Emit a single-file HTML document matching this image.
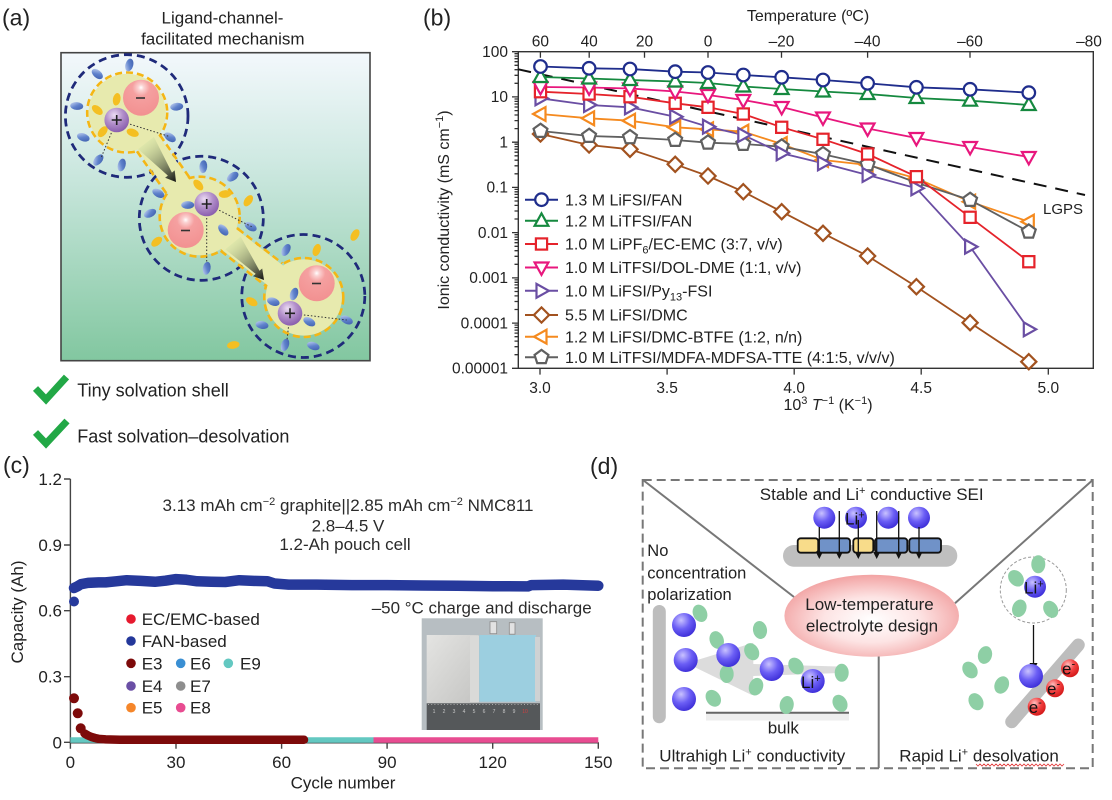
<!DOCTYPE html>
<html><head><meta charset="utf-8"><style>
html,body{margin:0;padding:0;background:#fff}
svg{display:block;font-family:"Liberation Sans",Arial,sans-serif}
</style></head><body>
<svg width="1112" height="800" viewBox="0 0 1112 800">
<defs>
<linearGradient id="bgA" gradientUnits="userSpaceOnUse" x1="0" y1="52.7" x2="0" y2="360.7">
<stop offset="0" stop-color="#f3f8fc"/><stop offset="0.35" stop-color="#cfe9e2"/><stop offset="1" stop-color="#82c7a0"/>
</linearGradient>
<radialGradient id="anion" cx="0.5" cy="0.22" r="0.8">
<stop offset="0" stop-color="#ffffff"/><stop offset="0.1" stop-color="#fbd2d2"/><stop offset="0.3" stop-color="#f5a0a0"/><stop offset="1" stop-color="#f29090"/>
</radialGradient>
<radialGradient id="cation" cx="0.4" cy="0.3" r="0.7">
<stop offset="0" stop-color="#ecdcf3"/><stop offset="0.5" stop-color="#b28fca"/><stop offset="1" stop-color="#8a5fae"/>
</radialGradient>
<linearGradient id="blig" x1="0" y1="0" x2="1" y2="1">
<stop offset="0" stop-color="#cfdcf5"/><stop offset="0.5" stop-color="#5f82cc"/><stop offset="1" stop-color="#3a5aa8"/>
</linearGradient>
<linearGradient id="arr1" gradientUnits="userSpaceOnUse" x1="146" y1="143" x2="176" y2="182">
<stop offset="0" stop-color="#c8dca0" stop-opacity="0.3"/><stop offset="1" stop-color="#111"/>
</linearGradient>
<linearGradient id="arr2" gradientUnits="userSpaceOnUse" x1="233" y1="243" x2="264" y2="280">
<stop offset="0" stop-color="#c8dca0" stop-opacity="0.3"/><stop offset="1" stop-color="#111"/>
</linearGradient>
<radialGradient id="li" cx="0.38" cy="0.3" r="0.75">
<stop offset="0" stop-color="#c9c2ff"/><stop offset="0.5" stop-color="#6b5ef5"/><stop offset="1" stop-color="#3a2bd6"/>
</radialGradient>
<radialGradient id="eb" cx="0.38" cy="0.3" r="0.75">
<stop offset="0" stop-color="#ffc0c0"/><stop offset="0.5" stop-color="#f24040"/><stop offset="1" stop-color="#d01515"/>
</radialGradient>
<radialGradient id="pinkE" cx="0.5" cy="0.55" r="0.55">
<stop offset="0" stop-color="#ffffff"/><stop offset="0.5" stop-color="#fde4e4"/><stop offset="1" stop-color="#f2a3a3"/>
</radialGradient>
<linearGradient id="pouchL" x1="0" y1="0" x2="1" y2="1">
<stop offset="0" stop-color="#e4e4e2"/><stop offset="1" stop-color="#c4c4c2"/>
</linearGradient>
<circle id="mc" r="6.3"/>
<path id="mtu" d="M0,-7.4L6.9,5L-6.9,5Z"/>
<path id="mtd" d="M0,7.4L6.9,-5L-6.9,-5Z"/>
<rect id="msq" x="-5.6" y="-5.6" width="11.2" height="11.2"/>
<path id="mtr" d="M7.4,0L-5,-6.9L-5,6.9Z"/>
<path id="mtl" d="M-7.4,0L5,-6.9L5,6.9Z"/>
<path id="mdi" d="M0,-7.6L7.6,0L0,7.6L-7.6,0Z"/>
<path id="mpe" d="M0,-7.3L6.94,-2.26L4.29,5.91L-4.29,5.91L-6.94,-2.26Z"/>
<ellipse id="gr" rx="7" ry="9" fill="#8ecfa5"/>
<ellipse id="bl" rx="6.5" ry="3.9" fill="url(#blig)"/>
<ellipse id="yl" rx="6.3" ry="3.8" fill="#f4bf22"/>
</defs>

<!-- ================= PANEL (a) ================= -->
<text x="2" y="25.5" font-size="23" fill="#222">(a)</text>
<text x="222.5" y="23.3" font-size="17" fill="#222" text-anchor="middle">Ligand-channel-</text>
<text x="222.8" y="44.3" font-size="17" fill="#222" text-anchor="middle">facilitated mechanism</text>
<rect x="61" y="52.7" width="309" height="308" fill="url(#bgA)" stroke="#444" stroke-width="1.6"/>

<!-- navy outer shells (union) -->
<g fill="none" stroke="#1f2a7a" stroke-width="2.8" stroke-dasharray="8 5">
<circle cx="126.7" cy="116" r="61.3"/>
<circle cx="201.3" cy="218.3" r="62"/>
<circle cx="303.3" cy="296" r="61.5"/>
</g>
<g fill="url(#bgA)">
<circle cx="126.7" cy="116" r="59.8"/>
<circle cx="201.3" cy="218.3" r="60.5"/>
<circle cx="303.3" cy="296" r="60"/>
</g>
<!-- yellow regions (union) -->
<g fill="none" stroke="#f5b614" stroke-width="2.6" stroke-dasharray="7 4">
<circle cx="127.2" cy="112.5" r="40"/>
<circle cx="199.7" cy="216.7" r="40"/>
<circle cx="303.8" cy="297.5" r="39.5"/>
<line x1="137" y1="151.3" x2="166.7" y2="193.9"/>
<line x1="160" y1="135.3" x2="189.7" y2="177.9"/>
<line x1="220.7" y1="250.8" x2="265.1" y2="285.4"/>
<line x1="237.9" y1="228.8" x2="282.3" y2="263.4"/>
</g>
<g fill="#e7eaae">
<circle cx="127.2" cy="112.5" r="38.6"/>
<circle cx="199.7" cy="216.7" r="38.6"/>
<circle cx="303.8" cy="297.5" r="38.1"/>
<polygon points="116.95,119.65 137.45,105.35 209.95,209.55 189.45,223.85"/>
<polygon points="192,226.55 207.4,206.85 311.5,287.65 296.1,307.35"/>
</g>
<!-- ligands -->
<g>
<use href="#bl" transform="translate(129.3,65) rotate(-75)"/>
<use href="#bl" transform="translate(97.3,74) rotate(40)"/>
<use href="#bl" transform="translate(76.7,106) rotate(5)"/>
<use href="#bl" transform="translate(176.7,106.7) rotate(-5)"/>
<use href="#bl" transform="translate(83.3,137.3) rotate(20)"/>
<use href="#bl" transform="translate(170,137.3) rotate(35)"/>
<use href="#bl" transform="translate(98.3,160) rotate(-50)"/>
<use href="#bl" transform="translate(121.7,165) rotate(-75)"/>
<use href="#bl" transform="translate(203.3,166.7) rotate(-85)"/>
<use href="#bl" transform="translate(232.7,176.7) rotate(-35)"/>
<use href="#bl" transform="translate(158.3,193.3) rotate(30)"/>
<use href="#bl" transform="translate(150,213.3) rotate(-25)"/>
<use href="#bl" transform="translate(187.7,205) rotate(0)"/>
<use href="#bl" transform="translate(223.3,230) rotate(50)"/>
<use href="#bl" transform="translate(250.7,226.7) rotate(30)"/>
<use href="#bl" transform="translate(206.7,268.3) rotate(-80)"/>
<use href="#bl" transform="translate(286,250) rotate(-60)"/>
<use href="#bl" transform="translate(273.3,301.7) rotate(20)"/>
<use href="#bl" transform="translate(294,294) rotate(-70)"/>
<use href="#bl" transform="translate(309.3,321.7) rotate(30)"/>
<use href="#bl" transform="translate(262,325) rotate(10)"/>
<use href="#bl" transform="translate(285,345) rotate(-70)"/>
<use href="#bl" transform="translate(313.3,346) rotate(20)"/>
<use href="#bl" transform="translate(346.7,320) rotate(25)"/>
<use href="#yl" transform="translate(116.7,99.3) rotate(-80)"/>
<use href="#yl" transform="translate(97.3,110) rotate(40)"/>
<use href="#yl" transform="translate(102.7,131.7) rotate(-50)"/>
<use href="#yl" transform="translate(132.7,132.7) rotate(20)"/>
<use href="#yl" transform="translate(198.3,185) rotate(50)"/>
<use href="#yl" transform="translate(225,194) rotate(-5)"/>
<use href="#yl" transform="translate(248.3,200.7) rotate(-55)"/>
<use href="#yl" transform="translate(156.7,241.7) rotate(-40)"/>
<use href="#yl" transform="translate(316.7,250) rotate(-70)"/>
<use href="#yl" transform="translate(251.7,301.7) rotate(30)"/>
<use href="#yl" transform="translate(233.3,345) rotate(-10)"/>
<use href="#yl" transform="translate(355,235) rotate(-60)"/>
</g>
<!-- dotted bonds -->
<g stroke="#333" stroke-width="1" stroke-dasharray="1.5 2" fill="none">
<line x1="116.7" y1="120" x2="170" y2="136.7"/>
<line x1="116.7" y1="120" x2="101" y2="158"/>
<line x1="206.7" y1="204" x2="251.7" y2="226.7"/>
<line x1="206.7" y1="204" x2="206.7" y2="262"/>
<line x1="290" y1="313.3" x2="346.7" y2="320"/>
<line x1="290" y1="313.3" x2="287" y2="340"/>
</g>
<!-- ions -->
<circle cx="141" cy="97.7" r="18" fill="url(#anion)"/>
<circle cx="185.7" cy="230" r="18" fill="url(#anion)"/>
<circle cx="316.7" cy="283.3" r="18" fill="url(#anion)"/>
<g stroke="#333" stroke-width="1.6">
<line x1="136" y1="98" x2="145" y2="98"/>
<line x1="181" y1="230.5" x2="190" y2="230.5"/>
<line x1="312" y1="283.5" x2="321" y2="283.5"/>
</g>
<circle cx="116.7" cy="120" r="12.3" fill="url(#cation)"/>
<circle cx="206.7" cy="204" r="12.3" fill="url(#cation)"/>
<circle cx="290" cy="313.3" r="12.3" fill="url(#cation)"/>
<g stroke="#222" stroke-width="1.6">
<path d="M111.7,120h10M116.7,115v10"/>
<path d="M201.7,204h10M206.7,199v10"/>
<path d="M285,313.3h10M290,308.3v10"/>
</g>
<polygon points="138.1,149.1 167.9,175.6 165.1,177.8 176,182 174.7,170.4 171.9,172.6 153.9,136.9" fill="url(#arr1)"/>
<polygon points="225.3,249.4 255.7,273.9 253,276.2 264,280 262.2,268.5 259.5,270.7 240.7,236.6" fill="url(#arr2)"/>

<!-- checks -->
<g fill="none" stroke="#22a846" stroke-width="7">
<path d="M35.5,388.5 L46,399.5 L66.5,377"/>
<path d="M35.5,432.5 L46,443.5 L67,421"/>
</g>
<text x="77.3" y="396.5" font-size="18" fill="#222">Tiny solvation shell</text>
<text x="77.3" y="442.5" font-size="18" fill="#222">Fast solvation–desolvation</text>

<!-- ================= PANEL (b) ================= -->
<text x="423" y="25.5" font-size="23" fill="#222">(b)</text>
<text x="808" y="21" font-size="16" fill="#222" text-anchor="middle">Temperature (ºC)</text>
<g font-size="15.5" fill="#222" text-anchor="middle">
<text x="540.4" y="46.5">60</text>
<text x="589.2" y="46.5">40</text>
<text x="644.5" y="46.5">20</text>
<text x="708" y="46.5">0</text>
<text x="781.5" y="46.5">–20</text>
<text x="867.6" y="46.5">–40</text>
<text x="970" y="46.5">–60</text>
<text x="1089" y="46.5">–80</text>
<text x="540" y="393">3.0</text>
<text x="667.1" y="393">3.5</text>
<text x="794.2" y="393">4.0</text>
<text x="921.2" y="393">4.5</text>
<text x="1048.3" y="393">5.0</text>
</g>
<g font-size="15.5" fill="#222" text-anchor="end">
<text x="508" y="57">100</text>
<text x="508" y="102.2">10</text>
<text x="508" y="147.5">1</text>
<text x="508" y="192.7">0.1</text>
<text x="508" y="237.9">0.01</text>
<text x="508" y="283.2">0.001</text>
<text x="508" y="328.4">0.0001</text>
<text x="508" y="373.6">0.00001</text>
</g>
<text x="828" y="410" font-size="16" fill="#222" text-anchor="middle">10<tspan dy="-6" font-size="11">3</tspan><tspan dy="6"> </tspan><tspan font-style="italic">T</tspan><tspan dy="-6" font-size="11">−1</tspan><tspan dy="6"> (K</tspan><tspan dy="-6" font-size="11">−1</tspan><tspan dy="6">)</tspan></text>
<text transform="translate(449,210) rotate(-90)" font-size="16" fill="#222" text-anchor="middle">Ionic conductivity (mS cm<tspan dy="-6" font-size="11">−1</tspan><tspan dy="6">)</tspan></text>

<rect x="518.3" y="51.7" width="575" height="316.6" fill="none" stroke="#333" stroke-width="1.4"/>
<g stroke="#333" stroke-width="1.3">
<path d="M512,51.7h6.3M512,96.9h6.3M512,142.2h6.3M512,187.4h6.3M512,232.6h6.3M512,277.9h6.3M512,323.1h6.3M512,368.3h6.3"/>
<path d="M514.5,354.7h3.8M514.5,346.7h3.8M514.5,341.1h3.8M514.5,336.7h3.8M514.5,333.1h3.8M514.5,330.1h3.8M514.5,327.5h3.8M514.5,325.1h3.8
M514.5,309.5h3.8M514.5,301.5h3.8M514.5,295.9h3.8M514.5,291.5h3.8M514.5,287.9h3.8M514.5,284.9h3.8M514.5,282.3h3.8M514.5,279.9h3.8
M514.5,264.3h3.8M514.5,256.3h3.8M514.5,250.7h3.8M514.5,246.3h3.8M514.5,242.7h3.8M514.5,239.7h3.8M514.5,237.1h3.8M514.5,234.7h3.8
M514.5,219h3.8M514.5,211h3.8M514.5,205.4h3.8M514.5,201h3.8M514.5,197.4h3.8M514.5,194.4h3.8M514.5,191.8h3.8M514.5,189.4h3.8
M514.5,173.8h3.8M514.5,165.8h3.8M514.5,160.2h3.8M514.5,155.8h3.8M514.5,152.2h3.8M514.5,149.2h3.8M514.5,146.6h3.8M514.5,144.2h3.8
M514.5,128.6h3.8M514.5,120.6h3.8M514.5,115h3.8M514.5,110.6h3.8M514.5,107h3.8M514.5,104h3.8M514.5,101.4h3.8M514.5,99h3.8
M514.5,83.3h3.8M514.5,75.3h3.8M514.5,69.7h3.8M514.5,65.3h3.8M514.5,61.7h3.8M514.5,58.7h3.8M514.5,56.1h3.8M514.5,53.7h3.8"/>
<path d="M540.4,51.7v6M589.2,51.7v6M644.5,51.7v6M708,51.7v6M781.5,51.7v6M867.6,51.7v6M970,51.7v6"/>
<path d="M540,368.3v6.3M667.1,368.3v6.3M794.2,368.3v6.3M921.2,368.3v6.3M1048.3,368.3v6.3"/>
</g>

<line x1="518.3" y1="69.3" x2="1085" y2="195" stroke="#111" stroke-width="2" stroke-dasharray="13 9"/>
<text x="1043" y="214" font-size="15" fill="#222">LGPS</text>

<!-- series lines -->
<g fill="none" stroke-width="1.8">
<polyline stroke="#a2521f" points="540.5,134 589.1,145 630,149.3 675.2,164.3 708,176 743.3,191.7 781.7,211.7 823,233.3 867.6,256 916.4,286.7 970.1,322.7 1028.8,361.7"/>
<polyline stroke="#f58a1f" points="540.5,114 589.1,118.3 630,120.7 675.2,127.3 708,129.3 743.3,131.7 781.7,144 823,160 867.6,165 916.4,178.3 970.1,201.7 1028.8,221.7"/>
<polyline stroke="#606060" points="540.5,131 589.1,136 630,137.3 675.2,140 708,142.7 743.3,144 781.7,146.7 823,154.3 867.6,164.3 916.4,182.7 970.1,200 1028.8,231.7"/>
<polyline stroke="#6a4ea3" points="540.5,98.3 589.1,105 630,107.3 675.2,116.7 708,126.7 743.3,135 781.7,153.3 823,163.3 867.6,175 916.4,188.3 970.1,246.7 1028.8,329.3"/>
<polyline stroke="#e5232b" points="540.5,91.7 589.1,94 630,96.7 675.2,103.3 708,107.3 743.3,114 781.7,127.3 823,139.3 867.6,154 916.4,176.7 970.1,217.3 1028.8,261.7"/>
<polyline stroke="#e8177d" points="540.5,87 589.1,87.5 630,88.5 675.2,91.5 708,95 743.3,100 781.7,107 823,117.5 867.6,128.5 916.4,138 970.1,147 1028.8,157"/>
<polyline stroke="#15893f" points="540.5,77 589.1,78.5 630,80 675.2,81.5 708,83 743.3,86.5 781.7,89 823,91.5 867.6,94 916.4,98 970.1,100.7 1028.8,105"/>
<polyline stroke="#1f2d8c" points="540.5,66.5 589.1,68.3 630,69 675.2,71.7 708,72.5 743.3,75 781.7,77.3 823,80 867.6,83.3 916.4,87.3 970.1,89.3 1028.8,92.7"/>
</g>
<!-- series markers -->
<g fill="#fff" stroke-width="2.2">
<g stroke="#a2521f"><use href="#mdi" x="540.5" y="134"/><use href="#mdi" x="589.1" y="145"/><use href="#mdi" x="630" y="149.3"/><use href="#mdi" x="675.2" y="164.3"/><use href="#mdi" x="708" y="176"/><use href="#mdi" x="743.3" y="191.7"/><use href="#mdi" x="781.7" y="211.7"/><use href="#mdi" x="823" y="233.3"/><use href="#mdi" x="867.6" y="256"/><use href="#mdi" x="916.4" y="286.7"/><use href="#mdi" x="970.1" y="322.7"/><use href="#mdi" x="1028.8" y="361.7"/></g>
<g stroke="#f58a1f"><use href="#mtl" x="540.5" y="114"/><use href="#mtl" x="589.1" y="118.3"/><use href="#mtl" x="630" y="120.7"/><use href="#mtl" x="675.2" y="127.3"/><use href="#mtl" x="708" y="129.3"/><use href="#mtl" x="743.3" y="131.7"/><use href="#mtl" x="781.7" y="144"/><use href="#mtl" x="823" y="160"/><use href="#mtl" x="867.6" y="165"/><use href="#mtl" x="916.4" y="178.3"/><use href="#mtl" x="970.1" y="201.7"/><use href="#mtl" x="1028.8" y="221.7"/></g>
<g stroke="#606060"><use href="#mpe" x="540.5" y="131"/><use href="#mpe" x="589.1" y="136"/><use href="#mpe" x="630" y="137.3"/><use href="#mpe" x="675.2" y="140"/><use href="#mpe" x="708" y="142.7"/><use href="#mpe" x="743.3" y="144"/><use href="#mpe" x="781.7" y="146.7"/><use href="#mpe" x="823" y="154.3"/><use href="#mpe" x="867.6" y="164.3"/><use href="#mpe" x="916.4" y="182.7"/><use href="#mpe" x="970.1" y="200"/><use href="#mpe" x="1028.8" y="231.7"/></g>
<g stroke="#6a4ea3"><use href="#mtr" x="540.5" y="98.3"/><use href="#mtr" x="589.1" y="105"/><use href="#mtr" x="630" y="107.3"/><use href="#mtr" x="675.2" y="116.7"/><use href="#mtr" x="708" y="126.7"/><use href="#mtr" x="743.3" y="135"/><use href="#mtr" x="781.7" y="153.3"/><use href="#mtr" x="823" y="163.3"/><use href="#mtr" x="867.6" y="175"/><use href="#mtr" x="916.4" y="188.3"/><use href="#mtr" x="970.1" y="246.7"/><use href="#mtr" x="1028.8" y="329.3"/></g>
<g stroke="#e5232b"><use href="#msq" x="540.5" y="91.7"/><use href="#msq" x="589.1" y="94"/><use href="#msq" x="630" y="96.7"/><use href="#msq" x="675.2" y="103.3"/><use href="#msq" x="708" y="107.3"/><use href="#msq" x="743.3" y="114"/><use href="#msq" x="781.7" y="127.3"/><use href="#msq" x="823" y="139.3"/><use href="#msq" x="867.6" y="154"/><use href="#msq" x="916.4" y="176.7"/><use href="#msq" x="970.1" y="217.3"/><use href="#msq" x="1028.8" y="261.7"/></g>
<g stroke="#e8177d"><use href="#mtd" x="540.5" y="87"/><use href="#mtd" x="589.1" y="87.5"/><use href="#mtd" x="630" y="88.5"/><use href="#mtd" x="675.2" y="91.5"/><use href="#mtd" x="708" y="95"/><use href="#mtd" x="743.3" y="100"/><use href="#mtd" x="781.7" y="107"/><use href="#mtd" x="823" y="117.5"/><use href="#mtd" x="867.6" y="128.5"/><use href="#mtd" x="916.4" y="138"/><use href="#mtd" x="970.1" y="147"/><use href="#mtd" x="1028.8" y="157"/></g>
<g stroke="#15893f"><use href="#mtu" x="540.5" y="77"/><use href="#mtu" x="589.1" y="78.5"/><use href="#mtu" x="630" y="80"/><use href="#mtu" x="675.2" y="81.5"/><use href="#mtu" x="708" y="83"/><use href="#mtu" x="743.3" y="86.5"/><use href="#mtu" x="781.7" y="89"/><use href="#mtu" x="823" y="91.5"/><use href="#mtu" x="867.6" y="94"/><use href="#mtu" x="916.4" y="98"/><use href="#mtu" x="970.1" y="100.7"/><use href="#mtu" x="1028.8" y="105"/></g>
<g stroke="#1f2d8c"><use href="#mc" x="540.5" y="66.5"/><use href="#mc" x="589.1" y="68.3"/><use href="#mc" x="630" y="69"/><use href="#mc" x="675.2" y="71.7"/><use href="#mc" x="708" y="72.5"/><use href="#mc" x="743.3" y="75"/><use href="#mc" x="781.7" y="77.3"/><use href="#mc" x="823" y="80"/><use href="#mc" x="867.6" y="83.3"/><use href="#mc" x="916.4" y="87.3"/><use href="#mc" x="970.1" y="89.3"/><use href="#mc" x="1028.8" y="92.7"/></g>
</g>
<!-- legend b -->
<g stroke-width="2">
<line x1="525" y1="199.7" x2="558" y2="199.7" stroke="#1f2d8c"/>
<line x1="525" y1="220.8" x2="558" y2="220.8" stroke="#15893f"/>
<line x1="525" y1="244" x2="558" y2="244" stroke="#e5232b"/>
<line x1="525" y1="267.5" x2="558" y2="267.5" stroke="#e8177d"/>
<line x1="525" y1="290.8" x2="558" y2="290.8" stroke="#6a4ea3"/>
<line x1="525" y1="315" x2="558" y2="315" stroke="#a2521f"/>
<line x1="525" y1="336.7" x2="558" y2="336.7" stroke="#f58a1f"/>
<line x1="525" y1="357.2" x2="558" y2="357.2" stroke="#606060"/>
</g>
<g fill="#fff" stroke-width="2.2">
<use href="#mc" x="541.5" y="199.7" stroke="#1f2d8c"/>
<use href="#mtu" x="541.5" y="220.8" stroke="#15893f"/>
<use href="#msq" x="541.5" y="244" stroke="#e5232b"/>
<use href="#mtd" x="541.5" y="267.5" stroke="#e8177d"/>
<use href="#mtr" x="541.5" y="290.8" stroke="#6a4ea3"/>
<use href="#mdi" x="541.5" y="315" stroke="#a2521f"/>
<use href="#mtl" x="541.5" y="336.7" stroke="#f58a1f"/>
<use href="#mpe" x="541.5" y="357.2" stroke="#606060"/>
</g>
<g font-size="16" fill="#222">
<text x="565" y="205.3">1.3 M LiFSI/FAN</text>
<text x="565" y="226.4">1.2 M LiTFSI/FAN</text>
<text x="565" y="249.6">1.0 M LiPF<tspan dy="4" font-size="11">6</tspan><tspan dy="-4">/EC-EMC (3:7, v/v)</tspan></text>
<text x="565" y="273.1">1.0 M LiTFSI/DOL-DME (1:1, v/v)</text>
<text x="565" y="296.4">1.0 M LiFSI/Py<tspan dy="4" font-size="11">13</tspan><tspan dy="-4">-FSI</tspan></text>
<text x="565" y="320.6">5.5 M LiFSI/DMC</text>
<text x="565" y="342.3">1.2 M LiFSI/DMC-BTFE (1:2, n/n)</text>
<text x="565" y="362.8">1.0 M LiTFSI/MDFA-MDFSA-TTE (4:1:5, v/v/v)</text>
</g>

<!-- ================= PANEL (c) ================= -->
<text x="3" y="473" font-size="23" fill="#222">(c)</text>
<g font-size="17" fill="#222" text-anchor="end">
<text x="62" y="485">1.2</text>
<text x="62" y="551">0.9</text>
<text x="62" y="616.7">0.6</text>
<text x="62" y="682.7">0.3</text>
<text x="62" y="748.3">0</text>
</g>
<g font-size="17" fill="#222" text-anchor="middle">
<text x="70.4" y="768">0</text>
<text x="176" y="768">30</text>
<text x="281.6" y="768">60</text>
<text x="387.1" y="768">90</text>
<text x="492.7" y="768">120</text>
<text x="598.3" y="768">150</text>
<text x="343" y="788.5">Cycle number</text>
</g>
<text transform="translate(23,612) rotate(-90)" font-size="17" fill="#222" text-anchor="middle">Capacity (Ah)</text>
<g stroke="#444" stroke-width="1.4" fill="none">
<path d="M70.4,479V742.8H598.3"/>
<path d="M64,479h6.4M64,545h6.4M64,610.7h6.4M64,676.7h6.4M64,742.3h6.4"/>
<path d="M70.4,742.3v6.5M176,742.3v6.5M281.6,742.3v6.5M387.1,742.3v6.5M492.7,742.3v6.5M598.3,742.3v6.5"/>
</g>
<g font-size="17" fill="#2a2a2a" text-anchor="middle">
<text x="348" y="511">3.13 mAh cm<tspan dy="-6" font-size="11">−2</tspan><tspan dy="6"> graphite||2.85 mAh cm</tspan><tspan dy="-6" font-size="11">−2</tspan><tspan dy="6"> NMC811</tspan></text>
<text x="348" y="531.5">2.8–4.5 V</text>
<text x="345" y="550">1.2-Ah pouch cell</text>
</g>
<text x="371.7" y="613.3" font-size="17" fill="#2a2a2a" textLength="220" lengthAdjust="spacingAndGlyphs">–50 °C charge and discharge</text>
<!-- photo -->
<rect x="421.7" y="618.3" width="121" height="111.7" fill="#b7bec2"/>
<rect x="490" y="621.7" width="6.7" height="12" fill="#e2e2e2" stroke="#8a8a8a" stroke-width="0.8"/>
<rect x="509.3" y="622.7" width="5.7" height="11.5" fill="#e2e2e2" stroke="#8a8a8a" stroke-width="0.8"/>
<rect x="426.7" y="635" width="52" height="68.3" fill="url(#pouchL)"/>
<rect x="470" y="636" width="9" height="66" fill="#dadad8"/>
<rect x="479.3" y="635" width="56.7" height="66.7" fill="#9ccfe0"/>
<rect x="535" y="637" width="5" height="64" fill="#cfd2d3"/>
<rect x="426.7" y="703.3" width="113.3" height="26.7" fill="#55585a"/>
<path d="M428,704.5h110" stroke="#aaa" stroke-width="1" stroke-dasharray="1 2.2"/>
<g font-size="5" fill="#c8c8c8" text-anchor="middle">
<text x="434" y="713">1</text><text x="444" y="713">2</text><text x="454" y="713">3</text><text x="464" y="713">4</text><text x="474" y="713">5</text><text x="484" y="713">6</text><text x="494" y="713">7</text><text x="504" y="713">8</text><text x="514" y="713">9</text><text x="525" y="713" fill="#d04040">10</text>
</g>
<!-- data c -->
<line x1="70.4" y1="740" x2="373.5" y2="740" stroke="#63c8c1" stroke-width="5.5"/>
<line x1="373.5" y1="740" x2="598.3" y2="740" stroke="#e84c91" stroke-width="5.5"/>
<polyline fill="none" stroke="#7d0a0a" stroke-width="8.5" stroke-linecap="round" stroke-linejoin="round" points="84.5,733.5 88,735.5 91.5,737 95,738 98.6,738.8 105.6,739.4 120,739.7 304,739.7"/>
<circle cx="74" cy="698.3" r="5" fill="#7d0a0a"/>
<circle cx="77.7" cy="713.3" r="5" fill="#7d0a0a"/>
<circle cx="80.7" cy="728.3" r="5" fill="#7d0a0a"/>
<polyline fill="none" stroke="#26399b" stroke-width="10.5" stroke-linecap="round" stroke-linejoin="round" points="74,588 77.4,586.4 81,584.2 88,582.9 98.6,582.4 105.6,582.4 116.1,581.3 126.7,580.2 140.8,580.9 154.9,581.8 165.4,580.7 176,579.1 186.5,579.8 197.1,581.3 211.2,581.8 225.2,582 239.3,580.2 253.4,580.9 267.5,581.3 274.5,583.5 288.6,584.6 316.7,584.6 351.9,585.1 387.1,585.1 422.3,585.5 457.5,585.7 492.7,586.2 527.9,586.4 531.4,585.1 563.1,584.6 598.3,585.7"/>
<circle cx="74" cy="601.5" r="5" fill="#26399b"/>
<!-- legend c -->
<circle cx="131" cy="619" r="4.8" fill="#e6192e"/>
<circle cx="131" cy="641" r="4.8" fill="#23379a"/>
<circle cx="131" cy="663.3" r="4.8" fill="#7d0a0a"/>
<circle cx="131" cy="686" r="4.8" fill="#6a4fa5"/>
<circle cx="131" cy="707.7" r="4.8" fill="#f5862a"/>
<circle cx="180.7" cy="663.3" r="4.8" fill="#3a8fd3"/>
<circle cx="180.7" cy="686" r="4.8" fill="#8e8e8e"/>
<circle cx="180.7" cy="707.7" r="4.8" fill="#e84c91"/>
<circle cx="228.3" cy="663.3" r="4.8" fill="#63c8c1"/>
<g font-size="17" fill="#222">
<text x="141.7" y="625">EC/EMC-based</text>
<text x="141.7" y="647">FAN-based</text>
<text x="141.7" y="669.3">E3</text>
<text x="141.7" y="692">E4</text>
<text x="141.7" y="713.7">E5</text>
<text x="190" y="669.3">E6</text>
<text x="190" y="692">E7</text>
<text x="190" y="713.7">E8</text>
<text x="240" y="669.3">E9</text>
</g>

<!-- ================= PANEL (d) ================= -->
<text x="590" y="474" font-size="23" fill="#222">(d)</text>
<rect x="642.7" y="480" width="450" height="288.3" fill="none" stroke="#777" stroke-width="2" stroke-dasharray="9 5"/>
<g stroke="#777" stroke-width="2">
<line x1="643" y1="480" x2="794" y2="597"/>
<line x1="1092.7" y1="480" x2="955" y2="603.3"/>
<line x1="878.7" y1="650" x2="878.7" y2="768"/>
</g>
<ellipse cx="871.7" cy="615.7" rx="87.3" ry="41" fill="url(#pinkE)"/>
<g font-size="17" fill="#222" text-anchor="middle">
<text x="869.5" y="610">Low-temperature</text>
<text x="872" y="631.7">electrolyte design</text>
<text x="871.7" y="500">Stable and Li<tspan dy="-6" font-size="11">+</tspan><tspan dy="6"> conductive SEI</tspan></text>
<text x="783.3" y="733.3">bulk</text>
</g>
<!-- SEI -->
<rect x="783" y="545" width="174.3" height="21.7" rx="10.8" fill="#bfbfbf"/>
<g stroke="#111" stroke-width="1.8">
<rect x="797.7" y="538.3" width="20.6" height="14.4" rx="3" fill="#f8dc8a"/>
<rect x="818.3" y="538.3" width="31.7" height="14.4" rx="3" fill="#7092c8"/>
<rect x="853.3" y="538.3" width="20" height="14.4" rx="3" fill="#f8dc8a"/>
<rect x="875" y="538.3" width="32.3" height="14.4" rx="3" fill="#7092c8"/>
<rect x="909.3" y="538.3" width="31.7" height="14.4" rx="3" fill="#7092c8"/>
</g>
<circle cx="824.3" cy="517.7" r="11" fill="url(#li)"/>
<circle cx="856" cy="517.7" r="11" fill="url(#li)"/>
<circle cx="888.3" cy="517.7" r="11" fill="url(#li)"/>
<circle cx="919" cy="517.7" r="11" fill="url(#li)"/>
<g stroke="#111" stroke-width="1.3">
<path d="M819.3,527V553M839.3,511V553M858.3,520V553M876.7,511V553M898.7,511V553M919,527V553"/>
</g>
<g fill="#111">
<polygon points="815.8,552 822.8,552 819.3,559"/>
<polygon points="835.8,552 842.8,552 839.3,559"/>
<polygon points="854.8,552 861.8,552 858.3,559"/>
<polygon points="873.2,552 880.2,552 876.7,559"/>
<polygon points="895.2,552 902.2,552 898.7,559"/>
<polygon points="915.5,552 922.5,552 919,559"/>
</g>
<text x="845" y="524.5" font-size="17" fill="#111">Li<tspan dy="-6" font-size="11">+</tspan></text>

<!-- left section -->
<g font-size="16.5" fill="#222">
<text x="647.3" y="556">No</text>
<text x="647.3" y="578.3">concentration</text>
<text x="647.3" y="600">polarization</text>
</g>
<rect x="652.8" y="605" width="13" height="118.3" rx="6.5" fill="#bdbdbd"/>
<polygon points="686.7,663.3 753.3,642.7 753.3,664 846.7,666.7 846.7,672.7 753.3,676 751.7,695" fill="#d6d6d6" fill-opacity="0.85"/>
<rect x="706" y="713.5" width="143" height="7" fill="#eeeeee"/>
<line x1="706" y1="712.7" x2="849" y2="712.7" stroke="#666" stroke-width="2"/>
<g>
<use href="#gr" transform="translate(700,613.3) rotate(-25)"/>
<use href="#gr" transform="translate(716.7,640) rotate(-20)"/>
<use href="#gr" transform="translate(760,630) rotate(-10)"/>
<use href="#gr" transform="translate(751.7,651.7) rotate(-30)"/>
<use href="#gr" transform="translate(726.7,674) rotate(0)"/>
<use href="#gr" transform="translate(756,686.7) rotate(20)"/>
<use href="#gr" transform="translate(796,666) rotate(-35)"/>
<use href="#gr" transform="translate(841.7,672.7) rotate(0)"/>
<use href="#gr" transform="translate(713.3,698.3) rotate(-35)"/>
<use href="#gr" transform="translate(786.7,705) rotate(10)"/>
<use href="#gr" transform="translate(840,703.3) rotate(-30)"/>
</g>
<circle cx="684" cy="625" r="12" fill="url(#li)"/>
<circle cx="685.7" cy="660" r="12" fill="url(#li)"/>
<circle cx="684" cy="699" r="12" fill="url(#li)"/>
<circle cx="728.3" cy="655" r="12" fill="url(#li)"/>
<circle cx="771.7" cy="669" r="12" fill="url(#li)"/>
<circle cx="812.7" cy="681" r="12" fill="url(#li)"/>
<text x="801" y="688" font-size="17" fill="#111">Li<tspan dy="-6" font-size="11">+</tspan></text>
<text x="659.3" y="761.7" font-size="17" fill="#222">Ultrahigh Li<tspan dy="-6" font-size="11">+</tspan><tspan dy="6"> conductivity</tspan></text>
<text x="899.3" y="761.7" font-size="17" fill="#222">Rapid Li<tspan dy="-6" font-size="11">+</tspan><tspan dy="6"> desolvation</tspan></text>
<polyline fill="none" stroke="#e03030" stroke-width="0.8" points="976,764 978,766 980,764 982,766 984,764 986,766 988,764 990,766 992,764 994,766 996,764 998,766 1000,764 1002,766 1004,764 1006,766 1008,764 1010,766 1012,764 1014,766 1016,764 1018,766 1020,764 1022,766 1024,764 1026,766 1028,764 1030,766 1032,764 1034,766 1036,764 1038,766 1040,764 1042,766 1044,764 1046,766 1048,764 1050,766 1052,764 1054,766 1056,764 1058,766 1060,764 1062,766 1064,764"/>

<!-- right section -->
<circle cx="1033.3" cy="590" r="33" fill="none" stroke="#9a9a9a" stroke-width="1" stroke-dasharray="3 2"/>
<g>
<use href="#gr" transform="translate(1038.3,564.3) rotate(0)"/>
<use href="#gr" transform="translate(1016,578.3) rotate(-40)"/>
<use href="#gr" transform="translate(1019.3,608.3) rotate(20)"/>
<use href="#gr" transform="translate(1050.7,609.3) rotate(-30)"/>
<use href="#gr" transform="translate(985,655) rotate(15)"/>
<use href="#gr" transform="translate(970,670) rotate(-35)"/>
<use href="#gr" transform="translate(1001.7,685) rotate(25)"/>
<use href="#gr" transform="translate(976,701.7) rotate(-30)"/>
</g>
<circle cx="1035" cy="586.7" r="11" fill="url(#li)"/>
<text x="1024" y="593.5" font-size="17" fill="#111">Li<tspan dy="-6" font-size="11">+</tspan></text>
<line x1="1033.5" y1="625" x2="1033.5" y2="664" stroke="#111" stroke-width="1.3"/>
<polygon points="1029.5,663 1037.5,663 1033.5,671" fill="#111"/>
<line x1="1078.3" y1="645" x2="1011.7" y2="721.7" stroke="#bdbdbd" stroke-width="13" stroke-linecap="round"/>
<circle cx="1031" cy="676" r="12" fill="url(#li)"/>
<circle cx="1070" cy="668.3" r="9" fill="url(#eb)"/>
<circle cx="1055" cy="688.3" r="9" fill="url(#eb)"/>
<circle cx="1036.7" cy="706.7" r="9" fill="url(#eb)"/>
<g font-size="17" fill="#111">
<text x="1062" y="674.5">e<tspan dy="-7" font-size="11">-</tspan></text>
<text x="1047" y="694.5">e<tspan dy="-7" font-size="11">-</tspan></text>
<text x="1028.7" y="713">e<tspan dy="-7" font-size="11">-</tspan></text>
</g>
</svg>
</body></html>
